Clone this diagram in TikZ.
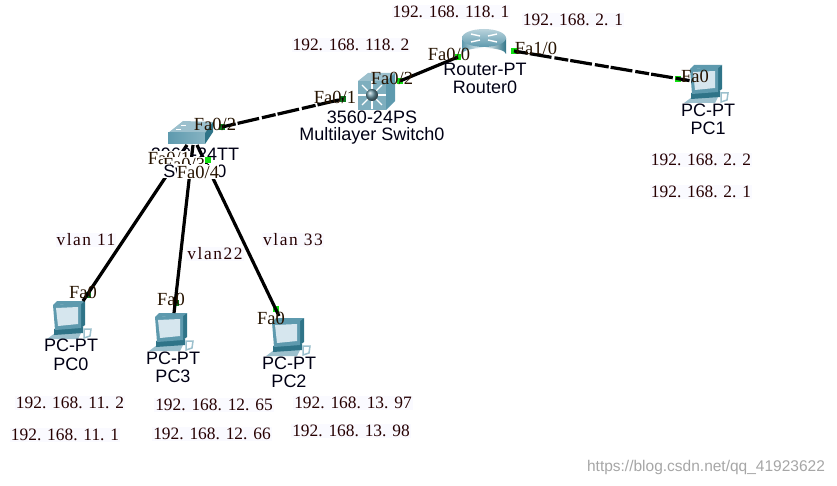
\documentclass[tikz,border=0pt]{standalone}
\usepackage{fontspec}
\setmainfont{Liberation Serif}
\newfontfamily\devfont{Liberation Sans}
\usetikzlibrary{positioning}

\definecolor{tealdark}{HTML}{2F7488}
\definecolor{tealmid}{HTML}{5E9AAE}
\definecolor{teallight}{HTML}{9CC0CD}
\definecolor{screenblue}{HTML}{D6E6EE}
\definecolor{porton}{HTML}{10E010}
\definecolor{portdim}{HTML}{0B7A1E}

\tikzset{
  device/.style={inner sep=0pt,minimum width=#1,minimum height=30pt},
  devlabel/.style={font=\devfont\fontsize{18}{20}\selectfont,text=black!92!blue,inner sep=0pt,align=center},
  iplabel/.style={font=\fontsize{17.4}{20}\selectfont,text=black!85!red,inner sep=1pt,fill=blue!2},
  vlanlabel/.style={iplabel,font=\fontsize{17.4}{20}\selectfont\addfontfeature{LetterSpace=9}},
  portlabel/.style={font=\fontsize{18.5}{20}\selectfont,text=black!85!orange,inner sep=0pt},
  portcover/.style={portlabel,fill=white,inner ysep=1pt},
  port/.style={fill=porton,inner sep=0pt,minimum size=6pt},
  portoff/.style={fill=portdim,inner sep=0pt,minimum size=6pt},
  wire/.style={line width=3.2pt,black},
  dashwire/.style={wire,dash pattern=on 14pt off 2pt on 22pt off 3pt},
  pics/pcicon/.style={code={
    \fill[teallight] (-22,19) -- (-14,13) -- (13,11) -- (9,19) -- cycle;
    \fill[tealdark] (-15,9) -- (14,7) -- (14,13) -- (-15,15) -- cycle;
    \fill[tealdark] (12,-17) -- (16,-19) -- (16,5) -- (12,8) -- cycle;
    \fill[tealmid] (-16,-15) -- (-12,-19) -- (16,-19) -- (12,-16) -- cycle;
    \fill[tealmid] (-16,-15) -- (12,-17) -- (12,8) -- (-14,10) -- cycle;
    \fill[screenblue] (-13,-12) -- (9,-13) -- (9,4) -- (-11,6) -- cycle;
    \draw[teallight,line width=1.5pt] (15,9) -- (22,9) -- (21,16) -- (15,18) -- cycle;
  }},
  pics/switchicon/.style={code={
    \fill[teallight] (-23,-1) -- (-8,-13) -- (22,-12) -- (14,-1) -- cycle;
    \fill[white] (-10,-9) rectangle (-5,-8);
    \fill[white] (-15,-5) rectangle (-10,-4);
    \shade[left color=tealmid,right color=tealmid!75!white] (-23,-1) rectangle (14,10);
    \fill[tealdark] (14,-1) -- (22,-12) -- (22,-2) -- (14,10) -- cycle;
  }},
  pics/mlsicon/.style={code={
    \fill[teallight] (-14,-14) -- (-4,-22) -- (23,-22) -- (14,-14) -- cycle;
    \fill[tealmid] (14,-14) -- (23,-22) -- (23,6) -- (14,15) -- cycle;
    \fill[tealmid!80!white] (-14,-14) rectangle (14,15);
    \foreach \ang in {0,45,...,315}
      \draw[white,line width=1.2pt] (\ang:5) -- (\ang:14);
    \shade[ball color=tealmid!70!gray] (0,0) circle (6);
  }},
  pics/routericon/.style={code={
    \shade[left color=tealmid,right color=tealdark,middle color=white] (-22,-8) -- (-22,8) arc (180:360:22 and 6) -- (22,-8) -- cycle;
    \shade[top color=teallight!70!white,bottom color=tealmid] (0,-8) ellipse (22 and 9);
    \draw[white,line width=1.4pt] (-13,-12) -- (-4,-10) (13,-12) -- (4,-10) (-13,-4) -- (-4,-6) (13,-4) -- (4,-6);
  }},
}

\begin{document}
\begin{tikzpicture}[x=1pt,y=-1pt]
  \useasboundingbox (0,0) rectangle (837,486);
  % devices
  \node[device=46pt] (sw0) at (191,134) {};
  \node[device=40pt] (ms0) at (372,95) {};
  \node[device=46pt] (r0) at (484,46) {};
  \node[device=40pt] (pc0) at (69,320) {};
  \node[device=40pt] (pc3) at (171,332) {};
  \node[device=40pt] (pc2) at (288,337) {};
  \node[device=40pt] (pc1) at (706,84) {};
  \pic at (sw0) {switchicon};
  \pic at (ms0) {mlsicon};
  \pic at (r0) {routericon};
  \foreach \dev in {pc0,pc1,pc2,pc3}
    \pic at (\dev) {pcicon};
  % ports
  \node[portoff] (p1) at (222,127) {};
  \node[portoff] (p2) at (343,99) {};
  \node[port] (p3) at (400,81) {};
  \node[port] (p4) at (458,57) {};
  \node[port] (p5) at (514,51) {};
  \node[port] (p6) at (678,79) {};
  \node[portoff] (p8) at (88,295) {};
  \node[portoff] (p9) at (176,303) {};
  \node[port] (p10) at (276,309) {};
  \coordinate (s1) at (187,145);
  \coordinate (s2) at (193,145);
  \coordinate (s3) at (197,145);
  \coordinate (e1) at (83,301);
  \coordinate (e2) at (174,313);
  \coordinate (e3) at (279,316);
  \coordinate (e4) at (692,81);
  % links
  \draw[dashwire] (p1.center) -- (p2.center);
  \draw[wire] (p3.center) -- (p4.center);
  \draw[dashwire] (p5.center) -- (e4);
  \draw[wire] (s1) -- (e1);
  \draw[wire] (s2) -- (e2);
  \draw[wire] (s3) -- (e3);
  % port names
  \node[portlabel] at (215,124) {Fa0/2};
  \node[portlabel] at (335,97) {Fa0/1};
  \node[portlabel] at (392,78) {Fa0/2};
  \node[portlabel] at (449,54) {Fa0/0};
  \node[portlabel] at (536,48) {Fa1/0};
  \node[portlabel] at (695,76) {Fa0};
  \node[portlabel] at (83,292) {Fa0};
  \node[portlabel] at (171,299) {Fa0};
  \node[portlabel] at (271,318) {Fa0};
  % device names, the switch labels lie on top of each other
  \node[devlabel] at (195,154) {2960-24TT};
  \node[portcover] at (169,158) {Fa0/1};
  \node[portcover] at (184,164) {Fa0/3};
  \node[devlabel,fill=white] at (195,171) {Switch0};
  \node[port] (p7) at (208,160) {};
  \node[portcover] at (198,172) {Fa0/4};
  \node[devlabel] at (372,117) {3560-24PS};
  \node[devlabel] at (372,136) {Multilayer Switch0};
  \node[devlabel] at (485,69) {Router-PT};
  \node[devlabel] at (485,87) {Router0};
  \node[devlabel] at (708,110) {PC-PT};
  \node[devlabel] at (708,128) {PC1};
  \node[devlabel] at (71,345) {PC-PT};
  \node[devlabel] at (71,364) {PC0};
  \node[devlabel] at (173,358) {PC-PT};
  \node[devlabel] at (173,376) {PC3};
  \node[devlabel] at (289,363) {PC-PT};
  \node[devlabel] at (289,381) {PC2};
  % addresses
  \node[iplabel] at (451,12) {192. 168. 118. 1};
  \node[iplabel] at (351,45) {192. 168. 118. 2};
  \node[iplabel] at (573,20) {192. 168. 2. 1};
  \node[iplabel] at (701,160) {192. 168. 2. 2};
  \node[iplabel] at (701,192) {192. 168. 2. 1};
  \node[vlanlabel] at (86,240) {vlan 11};
  \node[vlanlabel] at (215,254) {vlan22};
  \node[vlanlabel] at (293,240) {vlan 33};
  \node[iplabel] at (70,403) {192. 168. 11. 2};
  \node[iplabel] at (65,435) {192. 168. 11. 1};
  \node[iplabel] at (214,405) {192. 168. 12. 65};
  \node[iplabel] at (212,434) {192. 168. 12. 66};
  \node[iplabel] at (353,403) {192. 168. 13. 97};
  \node[iplabel] at (351,431) {192. 168. 13. 98};
  \node[font=\devfont\fontsize{15.5}{18}\selectfont,text=black!35,inner sep=0pt] at (706,467) {https://blog.csdn.net/qq\_41923622};
\end{tikzpicture}
\end{document}
